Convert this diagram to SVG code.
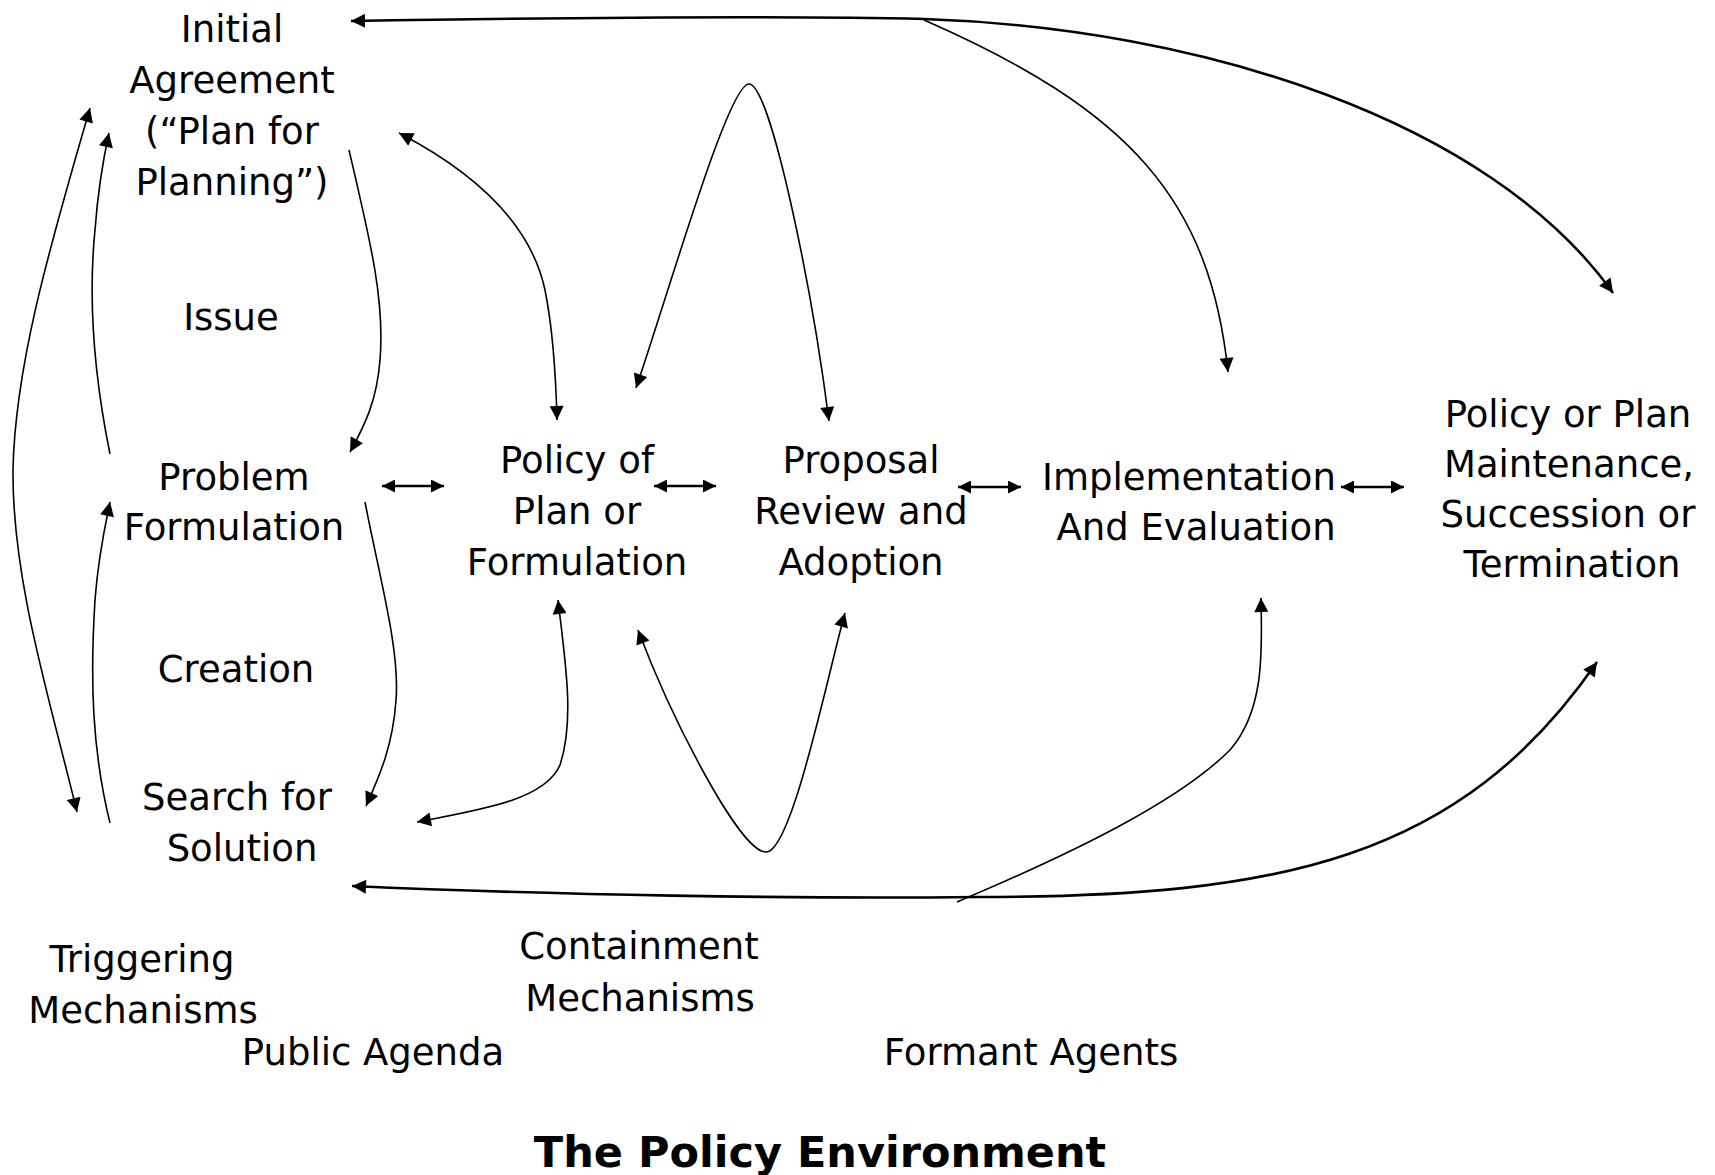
<svg xmlns="http://www.w3.org/2000/svg" width="1715" height="1175" viewBox="0 0 1715 1175">
  <style>
    text { font-family: "DejaVu Sans", Verdana, sans-serif; font-size: 37px; fill: #000; text-anchor: middle; }
    .title { font-weight: bold; font-size: 43px; }
    .link { fill: none; stroke: #000; stroke-width: 1.6; }
    .heavy { stroke-width: 2.6; }
    .pair { fill: none; stroke: #000; stroke-width: 2.4; }
  </style>
  <defs>
    <marker id="ah" viewBox="0 0 10 10" refX="10" refY="5" markerWidth="16" markerHeight="14" markerUnits="userSpaceOnUse" orient="auto-start-reverse">
      <path d="M0,0 L10,5 L0,10 z" fill="#000"/>
    </marker>
    <marker id="ahs" viewBox="0 0 10 10" refX="10" refY="5" markerWidth="14" markerHeight="13" markerUnits="userSpaceOnUse" orient="auto-start-reverse">
      <path d="M0,0 L10,5 L0,10 z" fill="#000"/>
    </marker>
  </defs>

  <rect width="1715" height="1175" fill="#fff"/>

  <!-- connectors -->
  <g id="connectors">
    <!-- long top arc: Initial Agreement to Maintenance -->
    <path class="link heavy" d="M351,21 C 600,17 800,16 924,19 C 1200,28 1490,120 1613,293" marker-start="url(#ah)" marker-end="url(#ah)"/>
    <!-- branch down to Implementation -->
    <path class="link" d="M924,20 C 1130,110 1210,200 1228,372" marker-end="url(#ah)"/>
    <!-- Initial Agreement <-> Policy formulation -->
    <path class="link" d="M399,133 C 470,170 530,220 545,290 C 553,330 556,380 557,420" marker-start="url(#ah)" marker-end="url(#ah)"/>
    <!-- upper arch between Policy formulation and Proposal -->
    <path class="link" d="M636,388 C 669,292 728,84 749,84 C 770,84 811,281 829,421" marker-start="url(#ah)" marker-end="url(#ah)"/>
    <!-- Initial Agreement down to Problem Formulation -->
    <path class="link" d="M349,150 C 370,240 385,300 380,360 C 377,400 365,425 350,452" marker-end="url(#ah)"/>
    <!-- Problem Formulation down to Search for Solution -->
    <path class="link" d="M365,502 C 380,580 400,650 396,700 C 393,745 380,775 366,806" marker-end="url(#ah)"/>
    <!-- outer left loop -->
    <path class="link" d="M90,108 C 55,230 15,360 13,470 C 12,580 50,700 77,812" marker-start="url(#ah)" marker-end="url(#ah)"/>
    <!-- Problem Formulation up to Initial Agreement -->
    <path class="link" d="M110,454 C 95,380 88,300 95,230 C 98,190 103,160 109,133" marker-end="url(#ah)"/>
    <!-- Search for Solution up to Problem Formulation -->
    <path class="link" d="M110,823 C 92,750 90,680 95,600 C 98,560 104,530 110,502" marker-end="url(#ah)"/>
    <!-- Policy formulation <-> Search for Solution -->
    <path class="link" d="M558,600 C 565,660 575,720 560,765 C 545,800 480,810 417,822" marker-start="url(#ah)" marker-end="url(#ah)"/>
    <!-- lower arch between Policy formulation and Proposal -->
    <path class="link" d="M638,630 C 672,720 740,852 766,852 C 792,852 828,673 845,613" marker-start="url(#ah)" marker-end="url(#ah)"/>
    <!-- long bottom arc: Search for Solution to Maintenance -->
    <path class="link heavy" d="M352,886 C 550,895 800,899 977,897 C 1280,897 1460,860 1597,662" marker-start="url(#ah)" marker-end="url(#ah)"/>
    <!-- Formant Agents up to Implementation -->
    <path class="link" d="M957,902 C 1080,850 1180,800 1230,750 C 1265,710 1262,650 1261,598" marker-end="url(#ah)"/>
    <!-- short two-way arrows between stages -->
    <path class="pair" d="M382,486 L444,486" marker-start="url(#ahs)" marker-end="url(#ahs)"/>
    <path class="pair" d="M654,486 L716,486" marker-start="url(#ahs)" marker-end="url(#ahs)"/>
    <path class="pair" d="M958,487 L1021,487" marker-start="url(#ahs)" marker-end="url(#ahs)"/>
    <path class="pair" d="M1341,487 L1404,487" marker-start="url(#ahs)" marker-end="url(#ahs)"/>
  </g>

  <!-- stage nodes -->
  <g id="initial-agreement">
    <text x="232" y="42">Initial</text>
    <text x="232" y="93">Agreement</text>
    <text x="232" y="144">(“Plan for</text>
    <text x="232" y="195">Planning”)</text>
  </g>
  <g id="issue">
    <text x="231" y="330">Issue</text>
  </g>
  <g id="problem-formulation">
    <text x="234" y="490">Problem</text>
    <text x="234" y="540">Formulation</text>
  </g>
  <g id="creation">
    <text x="236" y="682">Creation</text>
  </g>
  <g id="search-for-solution">
    <text x="237" y="810">Search for</text>
    <text x="242" y="861">Solution</text>
  </g>
  <g id="policy-formulation">
    <text x="577" y="473">Policy of</text>
    <text x="577" y="524">Plan or</text>
    <text x="577" y="575">Formulation</text>
  </g>
  <g id="proposal-review">
    <text x="861" y="473">Proposal</text>
    <text x="861" y="524">Review and</text>
    <text x="861" y="575">Adoption</text>
  </g>
  <g id="implementation">
    <text x="1189" y="490">Implementation</text>
    <text x="1196" y="540">And Evaluation</text>
  </g>
  <g id="maintenance">
    <text x="1568" y="427">Policy or Plan</text>
    <text x="1569" y="477">Maintenance,</text>
    <text x="1568" y="527">Succession or</text>
    <text x="1572" y="577">Termination</text>
  </g>

  <!-- environment labels -->
  <g id="triggering-mechanisms">
    <text x="142" y="972">Triggering</text>
    <text x="143" y="1023">Mechanisms</text>
  </g>
  <g id="public-agenda">
    <text x="373" y="1065">Public Agenda</text>
  </g>
  <g id="containment-mechanisms">
    <text x="639" y="959">Containment</text>
    <text x="640" y="1011">Mechanisms</text>
  </g>
  <g id="formant-agents">
    <text x="1031" y="1065">Formant Agents</text>
  </g>
  <g id="policy-environment">
    <text class="title" x="820" y="1167">The Policy Environment</text>
  </g>
</svg>
